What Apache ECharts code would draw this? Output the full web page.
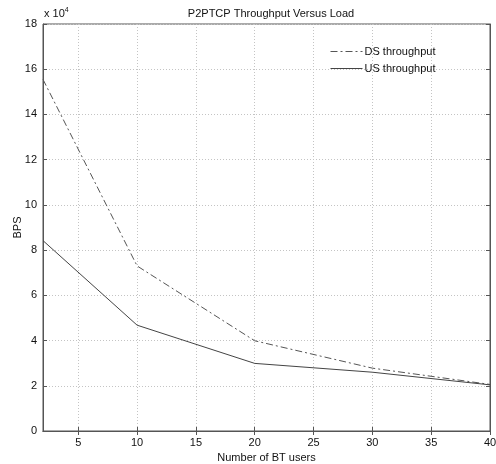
<!DOCTYPE html>
<html>
<head>
<meta charset="utf-8">
<script src="https://cdn.jsdelivr.net/npm/echarts@6/dist/echarts.min.js"></script>
<style>html,body{margin:0;padding:0;background:#fff}#c{width:496px;height:464px}</style>
</head>
<body>
<div id="c"></div>
<script>
var users = [2, 10, 20, 30, 40];
var dsThroughput = [155500, 73000, 39900, 27800, 20600];
var usThroughput = [84200, 46800, 29900, 26000, 20400];
var xTicks = [5, 10, 15, 20, 25, 30, 35, 40];

var FONT = 'Liberation Sans, Arial, sans-serif';
var AX = '#555';
var chart = echarts.init(document.getElementById('c'));
function pairs(xs, ys){ return xs.map(function(x,i){ return [x, ys[i]]; }); }
var commonGrid = {show:true, lineStyle:{color:'#c4c4c4', type:[1,2], width:1}};
chart.setOption({
  animation:false,
  backgroundColor:'#fff',
  title:{text:'P2PTCP Throughput Versus Load', left:266, textAlign:'center', top:3,
    textStyle:{fontFamily:FONT, fontSize:11, fontWeight:'normal', color:'#111'}},
  graphic:[{type:'text', left:44, top:7, style:{
    rich:{b:{fontFamily:FONT, fontSize:11, fill:'#111'}, s:{fontFamily:FONT, fontSize:7, fill:'#111', verticalAlign:'top', padding:[0,0,6,0]}},
    text:'{b|x 10}{s|4}'}}],
  legend:{orient:'vertical', left:325, top:41, itemWidth:32, itemHeight:10, itemGap:6,
    itemStyle:{opacity:0}, lineStyle:{width:1},
    textStyle:{fontFamily:FONT, fontSize:11, color:'#111', padding:[0,0,0,-3]},
    data:['DS throughput','US throughput']},
  grid:{left:43, right:6, top:24, bottom:33, show:true, borderColor:AX, borderWidth:1, outerBoundsMode:'none', containLabel:false},
  xAxis:[{type:'value', min:2, max:40, name:'Number of BT users', nameLocation:'middle', nameGap:21,
    nameMoveOverlap:false,
    nameTextStyle:{fontFamily:FONT, fontSize:11, color:'#111'},
    axisLine:{show:true, lineStyle:{color:AX}},
    axisTick:{show:true, inside:true, length:4, customValues:xTicks, lineStyle:{color:AX}},
    axisLabel:{customValues:xTicks, fontFamily:FONT, fontSize:11, color:'#111', margin:6},
    splitLine:commonGrid},
   {type:'value', min:2, max:40, position:'top',
    axisLine:{show:true, lineStyle:{color:AX}},
    axisTick:{show:true, inside:true, length:4, customValues:xTicks, lineStyle:{color:AX}},
    axisLabel:{show:false}, splitLine:{show:false}}],
  yAxis:[{type:'value', min:0, max:180000, interval:20000, name:'BPS', nameLocation:'middle', nameGap:20,
    nameMoveOverlap:false,
    nameTextStyle:{fontFamily:FONT, fontSize:11, color:'#111'},
    axisLine:{show:true, lineStyle:{color:AX}},
    axisTick:{show:true, inside:true, length:4, lineStyle:{color:AX}},
    axisLabel:{fontFamily:FONT, fontSize:11, color:'#111', margin:6, formatter:function(v){return String(v/10000);}},
    splitLine:commonGrid},
   {type:'value', min:0, max:180000, interval:20000, position:'right',
    axisLine:{show:true, lineStyle:{color:AX}},
    axisTick:{show:true, inside:true, length:4, lineStyle:{color:AX}},
    axisLabel:{show:false}, splitLine:{show:false}}],
  series:[
    {name:'DS throughput', type:'line', data:pairs(users, dsThroughput), symbol:'none',
      itemStyle:{color:'#555'}, lineStyle:{color:'#555', width:1, type:[7,3,2,3]}},
    {name:'US throughput', type:'line', data:pairs(users, usThroughput), symbol:'none',
      itemStyle:{color:'#444'}, lineStyle:{color:'#444', width:1, type:'solid'}}
  ]
});
</script>
</body>
</html>
